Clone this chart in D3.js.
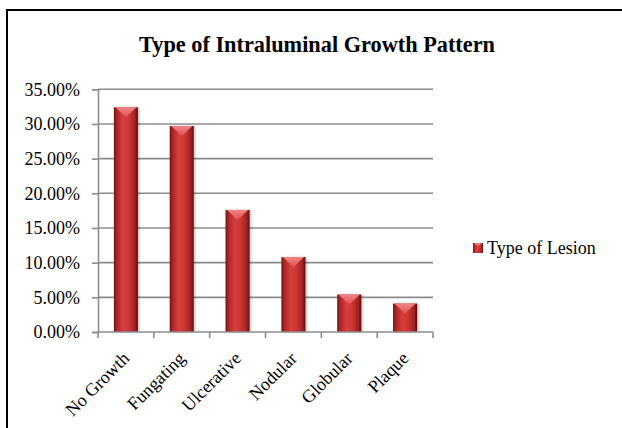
<!DOCTYPE html>
<html>
<head>
<meta charset="utf-8">
<script src="https://cdn.jsdelivr.net/npm/d3@7"></script>
<style>
  html, body { margin: 0; padding: 0; background: #fff; }
  svg { display: block; }
  text { font-family: "Liberation Serif", "Times New Roman", serif; fill: #000; }
</style>
</head>
<body>
<svg id="chart" width="622" height="428"></svg>
<script>
// Share of cases by intraluminal growth pattern
const categories = ["No Growth", "Fungating", "Ulcerative", "Nodular", "Globular", "Plaque"];
const seriesName = "Type of Lesion";
const values = [0.324, 0.297, 0.176, 0.108, 0.054, 0.041];
const yTicks = [0, 0.05, 0.10, 0.15, 0.20, 0.25, 0.30, 0.35];
const titleText = "Type of Intraluminal Growth Pattern";

const svg = d3.select("#chart");
const defs = svg.append("defs");

// Horizontal shading across each bar (dark edges, lit centre)
const side = defs.append("linearGradient").attr("id", "barSide")
  .attr("x1", "0").attr("x2", "1").attr("y1", "0").attr("y2", "0");
[["0%", "#6a0f0f"], ["10%", "#a82424"], ["38%", "#d63e3e"], ["62%", "#cc3636"],
 ["88%", "#a02222"], ["100%", "#5a0b0b"]]
  .forEach(([o, c]) => side.append("stop").attr("offset", o).attr("stop-color", c));

// Bevelled cap on top of each bar
const cap = defs.append("linearGradient").attr("id", "barCap")
  .attr("x1", "0").attr("x2", "0").attr("y1", "0").attr("y2", "1");
[["0%", "#f28585"], ["100%", "#de5050"]]
  .forEach(([o, c]) => cap.append("stop").attr("offset", o).attr("stop-color", c));

const shadow = defs.append("filter").attr("id", "barShadow")
  .attr("x", "-30%").attr("y", "-10%").attr("width", "160%").attr("height", "120%");
shadow.append("feDropShadow").attr("dx", 1.5).attr("dy", 0).attr("stdDeviation", 1.2)
  .attr("flood-color", "#000").attr("flood-opacity", 0.25);

// Chart frame (left and top edges visible)
svg.append("path")
  .attr("d", "M7,428V10H622")
  .attr("fill", "none").attr("stroke", "#000").attr("stroke-width", 2);

// Title
svg.append("text")
  .attr("x", 317).attr("y", 52)
  .attr("text-anchor", "middle")
  .style("font-size", "22.3px").style("font-weight", "bold")
  .text(titleText);

const x = d3.scaleBand().domain(categories).range([98, 433])
  .paddingInner(0.57).paddingOuter(0.285);
const y = d3.scaleLinear().domain([0, 0.35]).range([332, 89.3]);

// Horizontal gridlines
svg.append("g").selectAll("line").data(yTicks.filter(d => d > 0)).join("line")
  .attr("x1", 98).attr("x2", 433)
  .attr("y1", d => y(d)).attr("y2", d => y(d))
  .attr("stroke", "#8c8c8c").attr("stroke-width", 1.6);

// Y axis
const yAxis = svg.append("g").attr("transform", "translate(98,0)")
  .call(d3.axisLeft(y).tickValues(yTicks).tickFormat(d3.format(".2%")).tickSize(6).tickPadding(12));
yAxis.select(".domain").attr("stroke", "#8c8c8c").attr("stroke-width", 1.6);
yAxis.selectAll(".tick line").attr("stroke", "#8c8c8c").attr("stroke-width", 1.6);
yAxis.selectAll(".tick text")
  .style("font-family", "'Liberation Serif', 'Times New Roman', serif")
  .style("font-size", "18px").attr("fill", "#000");

// Bars
const bars = svg.append("g");
categories.forEach((c, i) => {
  const x0 = x(c), w = x.bandwidth(), top = y(values[i]), base = y(0);
  const g = bars.append("g").attr("filter", "url(#barShadow)");
  g.append("rect")
    .attr("x", x0).attr("y", top).attr("width", w).attr("height", base - top)
    .attr("fill", "url(#barSide)");
  const depth = Math.min(w * 0.42, base - top);
  g.append("path")
    .attr("d", `M${x0 + 1.5},${top}L${x0 + w - 1.5},${top}L${x0 + w / 2},${top + depth}Z`)
    .attr("fill", "url(#barCap)");
});

// X axis line and category boundary ticks
const xAxisG = svg.append("g").attr("transform", "translate(0,332)");
xAxisG.append("line").attr("x1", 98).attr("x2", 433)
  .attr("stroke", "#8c8c8c").attr("stroke-width", 1.6);
xAxisG.selectAll("line.bound").data(d3.range(categories.length + 1)).join("line")
  .attr("class", "bound")
  .attr("x1", i => x.range()[0] + i * x.step()).attr("x2", i => x.range()[0] + i * x.step())
  .attr("y1", 0).attr("y2", 6)
  .attr("stroke", "#8c8c8c").attr("stroke-width", 1.6);

const xAxis = svg.append("g").attr("transform", "translate(0,332)")
  .call(d3.axisBottom(x).tickSize(0).tickPadding(0));
xAxis.select(".domain").remove();
xAxis.selectAll(".tick text")
  .style("font-family", "'Liberation Serif', 'Times New Roman', serif")
  .style("font-size", "18px").attr("fill", "#000")
  .attr("text-anchor", "end")
  .attr("dy", "0.35em")
  .attr("transform", "translate(0,23) rotate(-45)");

// Legend
const lg = svg.append("g").attr("transform", "translate(473,243)");
lg.append("rect").attr("width", 10).attr("height", 10).attr("fill", "url(#barSide)");
lg.append("path").attr("d", "M1,0L9,0L5,4Z").attr("fill", "url(#barCap)");
lg.append("text").attr("x", 14).attr("y", 10.5)
  .style("font-size", "18px").text(seriesName);
</script>
</body>
</html>
